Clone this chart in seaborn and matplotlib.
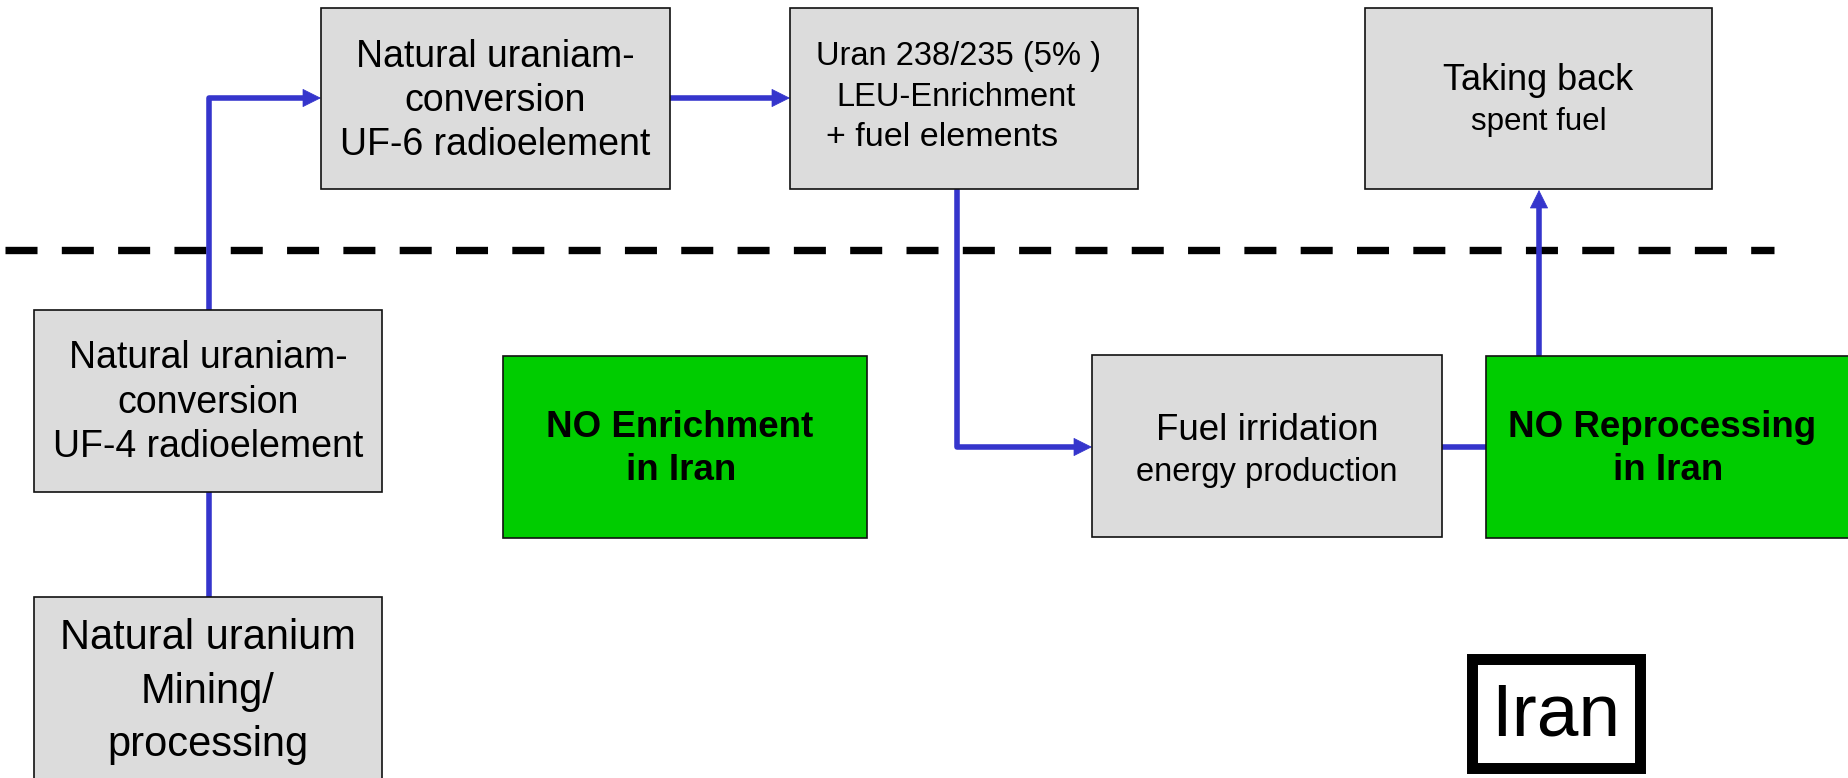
import numpy as np
import pandas as pd
import seaborn as sns
import matplotlib.pyplot as plt
from matplotlib.patches import Rectangle

# ---- diagram content -------------------------------------------------------
box_names = ['uf6', 'uran', 'takeback', 'uf4', 'mining', 'noenrich', 'fuel', 'noreproc']
box_lines = [
    ['Natural uraniam-', 'conversion', 'UF-6 radioelement'],
    ['Uran 238/235 (5% )', 'LEU-Enrichment', '+ fuel elements'],
    ['Taking back', 'spent fuel'],
    ['Natural uraniam-', 'conversion', 'UF-4 radioelement'],
    ['Natural uranium', 'Mining/', 'processing'],
    ['NO Enrichment', 'in Iran'],
    ['Fuel irridation', 'energy production'],
    ['NO Reprocessing', 'in Iran'],
]
# font size per line (pt)
box_sizes = [
    [27, 27, 27],
    [23.5, 23.5, 24.5],
    [26, 22.5],
    [27, 27, 27],
    [30, 30, 30],
    [26.5, 26.5],
    [26.5, 23.5],
    [26.5, 26.5],
]
box_bold = [False, False, False, False, False, True, False, True]
box_green = [False, False, False, False, False, True, False, True]

# geometry in image pixels (left, top, width, height)
box_left = [321, 790, 1365, 34, 34, 503, 1092, 1486]
box_top = [8, 8, 8, 310, 597, 356, 355, 356]
box_width = [349, 348, 347, 348, 348, 364, 350, 380]
box_height = [181, 181, 181, 182, 250, 182, 182, 182]
# y centre of each text line
line_y = [
    [57, 101, 145],
    [56, 97, 137],
    [80, 122],
    [358, 403, 447],
    [638, 692, 745],
    [427, 470],
    [430, 472],
    [427, 470],
]
# small horizontal shift of each text line from the box centre
line_dx = [
    [0, 0, 0],
    [-6, -8, -22],
    [0, 0],
    [0, 0, 0],
    [0, 0, 0],
    [-5, -4],
    [0, 0],
    [-14, -8],
]

# connectors: polylines, last point is the tip; arrow flag per link
link_x = [[209, 209, 321], [670, 790], [957, 957, 1092], [1442, 1486], [1539, 1539], [209, 209]]
link_y = [[310, 98, 98], [98, 98], [190, 447, 447], [447, 447], [355, 190], [492, 597]]
link_arrow = [True, True, True, False, True, False]

border_x = [5, 1774]
border_y = 250

label_text = 'Iran'

GRAY = '#dcdcdc'
GREEN = '#00cc00'
BLUE = '#3535cc'

sns.set_theme(style='white')
plt.rcParams['font.family'] = ['Liberation Sans', 'DejaVu Sans']

W, H = 1849, 778
fig = plt.figure(figsize=(W / 100, H / 100), dpi=100)
ax = fig.add_axes([0, 0, 1, 1])

# dashed border line
ax.plot(border_x, [border_y, border_y], color='black', lw=5.3,
        dashes=(4.35, 3.3), solid_capstyle='butt', dash_capstyle='butt', zorder=1)

# connector lines (stop short of the arrow tips)
rows = []
for i, (xs, ys) in enumerate(zip(link_x, link_y)):
    xs = list(xs)
    ys = list(ys)
    if link_arrow[i]:
        dx = np.sign(xs[-1] - xs[-2])
        dy = np.sign(ys[-1] - ys[-2])
        xs[-1] = xs[-1] - dx * 12
        ys[-1] = ys[-1] - dy * 12
    for x, y in zip(xs, ys):
        rows.append({'x': x, 'y': y, 'link': i})
links = pd.DataFrame(rows)
sns.lineplot(data=links, x='x', y='y', units='link', estimator=None, sort=False,
             color=BLUE, lw=4, ax=ax, legend=False, zorder=2)

for i, (xs, ys) in enumerate(zip(link_x, link_y)):
    if not link_arrow[i]:
        continue
    ax.annotate('', xy=(xs[-1], ys[-1]), xytext=(xs[-2], ys[-2]),
                arrowprops=dict(arrowstyle='-|>', mutation_scale=31, color=BLUE,
                                lw=0.5, shrinkA=0, shrinkB=0, fill=True),
                zorder=3)
ax.set_xlim(0, W)
ax.set_ylim(H, 0)
ax.axis('off')

# boxes
for i in range(len(box_names)):
    fc = GREEN if box_green[i] else GRAY
    ax.add_patch(Rectangle((box_left[i], box_top[i]), box_width[i], box_height[i],
                           facecolor=fc, edgecolor='#111111', lw=1.2, zorder=4))
    cx = box_left[i] + box_width[i] / 2
    for txt, fs, y, dx in zip(box_lines[i], box_sizes[i], line_y[i], line_dx[i]):
        ax.text(cx + dx, y, txt, ha='center', va='center', fontsize=fs,
                fontweight='bold' if box_bold[i] else 'normal', color='black', zorder=5)

# Iran label box
ax.add_patch(Rectangle((1472, 658.5), 168, 109, facecolor='white',
                       edgecolor='black', lw=7.9, zorder=4))
ax.text(1556, 716, label_text, ha='center', va='center', fontsize=54, color='black', zorder=5)

fig.savefig('out.png', dpi=100)
